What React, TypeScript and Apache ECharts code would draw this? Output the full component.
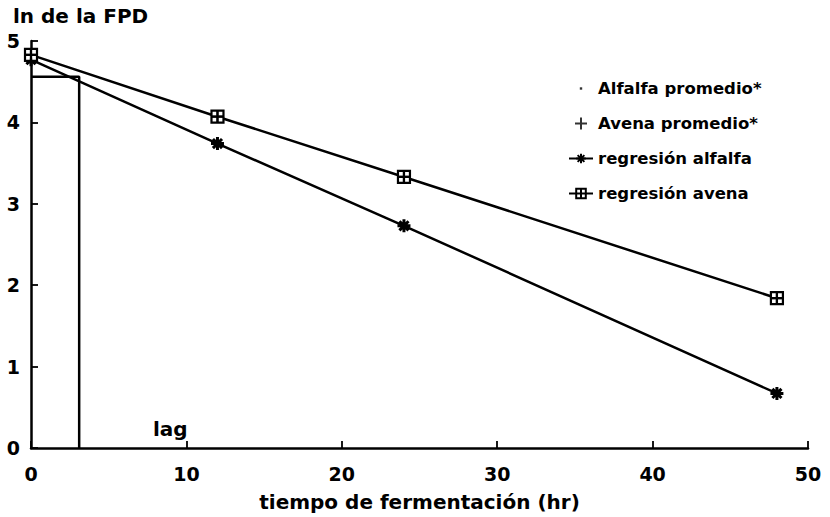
import React, { useEffect, useRef } from "react";
import * as echarts from "echarts";

const timeH = [0, 12, 24, 48];
const promAlfalfa = [4.77, 3.74, 2.73, 0.67];
const promAvena = [4.83, 4.07, 3.33, 1.84];
const regAlfalfa = [4.77, 3.74, 2.73, 0.67];
const regAvena = [4.83, 4.07, 3.33, 1.84];
const lagX = [0, 3.1, 3.1];
const lagY = [4.56, 4.56, 0];
const xTicks = [0, 10, 20, 30, 40, 50];
const yTicks = [0, 1, 2, 3, 4, 5];
const seriesNames = ["Alfalfa promedio*", "Avena promedio*", "regresión alfalfa", "regresión avena"];

const FONT = "'DejaVu Sans', Verdana, sans-serif";
const W = "bold";
const ASTERISK = "path://M0,5L10,5M5,0L5,10M1.5,1.5L8.5,8.5M8.5,1.5L1.5,8.5";
const SQPLUS = "path://M1,1L9,1L9,9L1,9ZM5,1L5,9M1,5L9,5";
const PLUS = "path://M0,5L10,5M5,0L5,10";
const DOT = "path://M0,0M10,10M4,4L6,4L6,6L4,6Z";

const pairs = (xs: number[], ys: number[]) => xs.map((x, i) => [x, ys[i]]);

export default function App() {
  const ref = useRef<HTMLDivElement>(null);
  useEffect(() => {
    if (!ref.current) return;
    const chart = echarts.init(ref.current, null, { renderer: "svg" });
    chart.setOption({
      animation: false,
      backgroundColor: "#fff",
      textStyle: { fontFamily: FONT, color: "#000", fontWeight: W },
      grid: { left: 31, right: 22, top: 41, bottom: 67, containLabel: false },
      legend: {
        orient: "vertical",
        left: 563,
        top: 75,
        itemGap: 18,
        itemWidth: 24,
        itemHeight: 12,
        textStyle: { fontFamily: FONT, fontSize: 16.5, fontWeight: W, color: "#000" },
        data: seriesNames,
      },
      xAxis: {
        type: "value",
        min: xTicks[0],
        max: xTicks[xTicks.length - 1],
        interval: 10,
        name: "tiempo de fermentación (hr)",
        nameLocation: "middle",
        nameGap: 44,
        nameTextStyle: { fontFamily: FONT, fontSize: 20, fontWeight: W, color: "#000" },
        axisLine: { lineStyle: { color: "#000", width: 2.5 } },
        axisTick: { inside: true, length: 7, lineStyle: { color: "#000", width: 1.8 } },
        axisLabel: { fontFamily: FONT, fontSize: 19, fontWeight: W, color: "#000", margin: 16 },
        splitLine: { show: false },
      },
      yAxis: {
        type: "value",
        min: yTicks[0],
        max: yTicks[yTicks.length - 1],
        interval: 1,
        axisLine: { lineStyle: { color: "#000", width: 2.5 } },
        axisTick: { inside: true, length: 7, lineStyle: { color: "#000", width: 1.8 } },
        axisLabel: { fontFamily: FONT, fontSize: 19, fontWeight: W, color: "#000", margin: 11 },
        splitLine: { show: false },
      },
      graphic: [
        { type: "text", left: 13, top: 6, style: { text: "ln de la FPD", font: `${W} 20px ${FONT}`, fill: "#000" } },
        { type: "text", left: 153, top: 419, style: { text: "lag", font: `${W} 20px ${FONT}`, fill: "#000" } },
      ],
      series: [
        {
          name: "lag",
          type: "line",
          data: pairs(lagX, lagY),
          symbol: "none",
          silent: true,
          lineStyle: { color: "#000", width: 2.5 },
        },
        {
          name: seriesNames[2],
          type: "line",
          data: pairs(timeH, regAlfalfa),
          symbol: ASTERISK,
          symbolSize: 13,
          lineStyle: { color: "#000", width: 2.5 },
          itemStyle: { color: "#000", borderColor: "#000", borderWidth: 3 },
          z: 3,
        },
        {
          name: seriesNames[3],
          type: "line",
          data: pairs(timeH, regAvena),
          symbol: SQPLUS,
          symbolSize: 12,
          lineStyle: { color: "#000", width: 2.5 },
          itemStyle: { color: "#fff", borderColor: "#000", borderWidth: 2.2 },
          z: 3,
        },
        {
          name: seriesNames[0],
          type: "scatter",
          data: pairs(timeH, promAlfalfa),
          symbol: DOT,
          symbolSize: 12,
          itemStyle: { color: "#000" },
          z: 4,
        },
        {
          name: seriesNames[1],
          type: "scatter",
          data: pairs(timeH, promAvena),
          symbol: PLUS,
          symbolSize: 12,
          itemStyle: { color: "#000", borderColor: "#000", borderWidth: 2.2 },
          z: 4,
        },
      ],
    });
    return () => chart.dispose();
  }, []);
  return <div ref={ref} style={{ width: 830, height: 517, position: "absolute", left: 0, top: 0 }} />;
}
